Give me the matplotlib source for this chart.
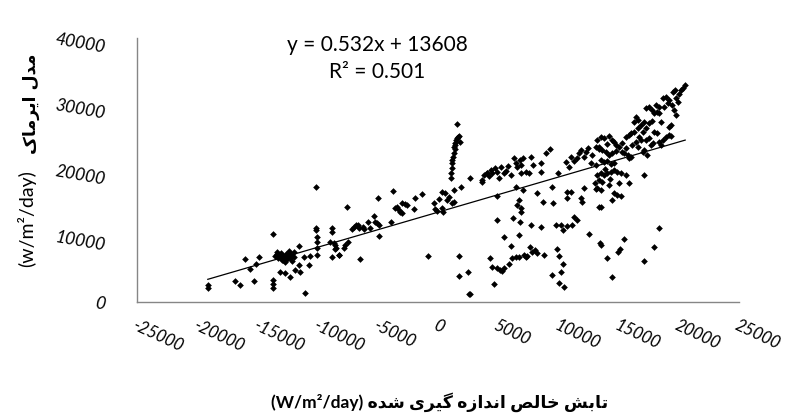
import matplotlib
matplotlib.use("Agg")
import matplotlib.pyplot as plt

# measured net radiation (x) vs. Irmak model (y), W/m2/day
x_left = [-19120, -19120, -16850, -16430, -16010, -15600, -15320, -15130, -14900,
          -13710, -13700, -13700, -13700,
          -13500, -13400, -13300, -13200, -13100, -13000, -12900, -12850, -12750,
          -12650, -12550, -12500, -12400, -12300, -12200, -12100, -12000, -11950,
          -12700, -13350, -12950, -12350,
          -13100, -12690, -12270, -11860, -11580, -11440, -11550, -11160, -11080,
          -10750, -10610, -10130, -10130, -10130, -10050, -10050, -10050, -10050,
          -8940, -8800, -8800, -8650, -8500, -8800, -8250]
y_left = [2575, 2070, 3180, 2575, 6515, 5000, 3180, 5710, 6770,
          10300, 3330, 2680, 2070,
          6900, 7300, 6600, 7100, 6800, 7500, 6300, 7000, 6700,
          7250, 6450, 6950, 7400, 6650, 7100, 6200, 6850, 7550,
          6100, 7600, 6400, 7700,
          4600, 4340, 3840, 4850, 8480, 4600, 5610, 6770, 1310,
          5610, 6970, 17370, 10910, 11160, 9900, 9140, 8130, 7120,
          9140, 11160, 10660, 8890, 8130, 6870, 7120]

x_mid = [-8530, -8530, -8190, -7830, -7700, -7470, -7560,
         -7140, -7000, -6810, -6640, -6530, -6450,
         -6250, -6170, -5810, -5620, -5340, -5250, -5060, -4920, -4980, -4920,
         -3870, -3730, -3540, -3400, -3260, -3120, -2980, -2980, -2760, -2570,
         -1960, -1870, -1370, -820,
         -350, -210, -70, 70, 350, 400, 350, 570, 760, 900,
         1040, 1100, 1150, 1180, 1320, 1180, 1320,
         1290, 1350, 1420, 1500, 1650, 1790, 1740, 1450, 1600,
         1400, 1550, 1250, 1200,
         1870, 2620, 1730, 1730, 2510, 2620, 3680, 4090]
y_mid = [8640, 7980, 7120, 8130, 8640, 9140, 14440,
         11010, 11410, 11670, 11670, 11160, 6460,
         11410, 11010, 12170, 11160, 13030, 12170, 11920, 11670, 15810, 10050,
         12170, 16870, 14190, 14440, 13940, 13690, 13430, 14950, 14850, 14700,
         14090, 15710, 16360, 6970,
         15050, 14090, 13840, 15550, 14190, 13690, 16720, 16460, 15450, 15860,
         18740, 19490, 20250, 21010, 16970, 14950, 15200,
         22530, 23530, 24040, 24540, 25050, 24290, 25150, 23130, 26970,
         23800, 24800, 22000, 21500,
         17370, 18740, 6970, 3940, 4490, 1210, 18230, 19490]

x_right = [3680, 3810, 4040, 4230, 4370, 4510, 4700, 4920, 5060, 5200,
           5480, 5620, 5810, 6030, 6310, 6450, 6590, 6810, 6920, 6860,
           7090, 7280, 7560, 7700, 7920, 8530, 8580, 8940, 9280, 9970,
           10610, 10880, 11020, 11300, 11580, 11720, 11860, 12130, 12270, 12470,
           12690, 12830, 13100, 13380,
           4920, 6450, 7090, 6720, 6590, 6860, 6860,
           8250, 8750, 9500, 9580, 10750, 10750, 11020,
           11860, 11990, 12130, 13100, 13380,
           4870, 6250, 6810, 7750, 8580, 9780, 10190, 10410, 10750, 11160,
           11300, 11580, 12550, 13460, 5480, 6720, 6030,
           4310, 4450, 4920, 5140, 5340, 5480, 4650,
           5890, 6170, 6450, 6720, 7140, 7280, 7420, 7640, 7830, 8030, 8250,
           8810, 9860, 10050, 10410, 10190, 9440, 10050, 10470, 2565]
y_right = [18480, 19240, 19590, 19090, 20000, 19490, 20250, 19750, 18740, 20500,
           19490, 19900, 20600, 19240, 21770, 21110, 20400, 21510, 20760, 19490,
           21770, 19750, 19590, 22020, 20760, 21110, 19750, 22520, 23130, 19590,
           21260, 20400, 22020, 21410, 21770, 22520, 23030, 22020, 22780, 23280,
           21010, 22270, 23540, 23130,
           16060, 17470, 16970, 15450, 14700, 14190, 13690,
           16460, 15200, 17470, 14950, 16720, 15710, 16720,
           15710, 15200, 17220, 17070, 14440,
           12420, 12680, 12170, 11670, 11410, 11670, 11670, 10910, 11510, 11670,
           12930, 12420, 10300, 8890, 9800, 10150, 8480,
           6720, 5350, 5100, 4850, 4750, 5100, 2730,
           5760, 6620, 6770, 6870, 7120, 6870, 6970, 8380, 7630, 7880, 7370,
           7120, 7980, 6970, 5760, 4600, 4090, 2930, 2320, 1160]

x_far = [13240, 13520, 13800, 14210, 14430, 13380, 13660, 13930, 14210, 14490,
         14770, 13520, 13800, 14070, 14350, 14630, 13240, 13520, 13800, 14070,
         14350, 14630, 14900, 15180, 13380, 13660, 13240, 13520, 14210, 15040,
         15880, 15600, 14630, 14900, 15180, 14490, 13520,
         14770, 15040, 15320, 15600, 15880, 16010, 15460, 15740, 15880, 16010,
         16150, 16430, 16570, 16710, 16850, 17120, 16990,
         16290, 16430, 16650, 16850, 17120, 17260, 17540,
         17260, 17540, 17680, 17820, 17400,
         17260, 17540, 17760, 17960, 18090, 18230, 18370,
         17960, 18230, 18370, 18510, 18650, 18930, 19150, 19340,
         18650, 18930, 19070, 19200, 19480, 19700, 19760, 19900, 19620, 19760,
         19200, 19340, 18370, 20170, 20370, 20530,
         14000, 14600, 15300, 15600, 16300, 16600, 17000, 17800, 18500, 18800,
         19400, 20000, 13900, 14300, 13100, 13000,
         13520, 14070, 14430, 14960, 15127, 15460, 17124, 17956, 18372, 17124]
y_far = [24540, 25050, 24800, 25200, 24540, 23530, 23030, 22780, 22270, 22520,
         22880, 21510, 21160, 21360, 20860, 21010, 19240, 19490, 19240, 19490,
         19750, 20000, 19750, 19490, 18480, 18230, 17220, 16970, 17730, 17980,
         17980, 19240, 16460, 16210, 16110, 15450, 14440,
         23790, 23530, 24040, 25050, 25300, 25550, 22520, 22270, 21770, 22020,
         23790, 24290, 23530, 25050, 24540, 23030, 22780,
         27320, 28080, 27570, 26820, 27320, 26310, 27070,
         24540, 24800, 23790, 24040, 22270,
         29340, 29590, 29090, 28580, 29850, 28840, 29590,
         25810, 25550, 24290, 23790, 24540, 25050, 25300, 25200,
         30860, 31110, 30100, 30600, 31870, 32120, 30860, 30350, 29090, 28330,
         26560, 26820, 28580, 32120, 32470, 32880,
         24000, 24300, 22800, 23300, 25800, 26300, 25800, 27500, 27200, 29500,
         29800, 31500, 20200, 18600, 20800, 18000,
         8640, 6720, 3840, 7625, 7979, 9495, 6262, 8282, 11262, 19240]

# linear trendline as printed on the chart
slope, intercept = 0.532, 13608

x_ticks = [-25000, -20000, -15000, -10000, -5000, 0, 5000, 10000, 15000, 20000, 25000]
x_ticklabels = ["-25000", "-20000", "-15000", "-10000", "-5000", "0",
                "5000", "10000", "15000", "20000", "25000"]
y_ticks = [0, 10000, 20000, 30000, 40000]

# minimal Persian shaping (presentation forms: iso, fin, ini, med)
FORMS = {
    "ا": ("\uFE8D", "\uFE8E", None, None),
    "ب": ("\uFE8F", "\uFE90", "\uFE91", "\uFE92"),
    "ت": ("\uFE95", "\uFE96", "\uFE97", "\uFE98"),
    "خ": ("\uFEA5", "\uFEA6", "\uFEA7", "\uFEA8"),
    "د": ("\uFEA9", "\uFEAA", None, None),
    "ر": ("\uFEAD", "\uFEAE", None, None),
    "ز": ("\uFEAF", "\uFEB0", None, None),
    "ش": ("\uFEB5", "\uFEB6", "\uFEB7", "\uFEB8"),
    "ص": ("\uFEB9", "\uFEBA", "\uFEBB", "\uFEBC"),
    "ل": ("\uFEDD", "\uFEDE", "\uFEDF", "\uFEE0"),
    "م": ("\uFEE1", "\uFEE2", "\uFEE3", "\uFEE4"),
    "ن": ("\uFEE5", "\uFEE6", "\uFEE7", "\uFEE8"),
    "ه": ("\uFEE9", "\uFEEA", "\uFEEB", "\uFEEC"),
    "ی": ("\uFBFC", "\uFBFD", "\uFBFE", "\uFBFF"),
    "ک": ("\uFB8E", "\uFB8F", "\uFB90", "\uFB91"),
    "گ": ("\uFB92", "\uFB93", "\uFB94", "\uFB95"),
}


def persian(text):
    out = []
    for i, ch in enumerate(text):
        if ch not in FORMS:
            out.append(ch)
            continue
        prev = text[i - 1] if i > 0 else ""
        nxt = text[i + 1] if i + 1 < len(text) else ""
        jp = prev in FORMS and FORMS[prev][2] is not None
        jn = FORMS[ch][2] is not None and nxt in FORMS
        iso, fin, ini, med = FORMS[ch]
        if jp and jn:
            out.append(med)
        elif jp:
            out.append(fin)
        elif jn:
            out.append(ini)
        else:
            out.append(iso)
    return "".join(reversed(out))


LATIN = ["Lato", "DejaVu Sans"]

fig = plt.figure(figsize=(7.88, 4.17), dpi=100)
ax = fig.add_axes([137 / 788, 1 - 302 / 417, 602 / 788, 264 / 417])

xs = x_left + x_mid + x_right + x_far
ys = y_left + y_mid + y_right + y_far
ax.plot(xs, ys, "D", ms=3.4, color="black", mew=0, zorder=3)

x0, x1 = min(xs), max(xs)
ax.plot([x0, x1], [slope * x0 + intercept, slope * x1 + intercept],
        color="black", lw=0.9, zorder=4)

ax.set_xlim(-25000, 25000)
ax.set_ylim(0, 40000)
ax.set_xticks(x_ticks)
ax.set_xticklabels(x_ticklabels, rotation=-25, rotation_mode="anchor",
                   ha="left", va="top", fontstyle="italic", fontsize=12,
                   family=LATIN)
ax.set_yticks(y_ticks)
ax.set_yticklabels([str(v) for v in y_ticks], rotation=-10, fontstyle="italic",
                   fontsize=12.5, family=LATIN)
ax.tick_params(axis="x", length=0, pad=11)
ax.tick_params(axis="y", length=0, pad=22)
for s in ("top", "right"):
    ax.spines[s].set_visible(False)
for s in ("left", "bottom"):
    ax.spines[s].set_color("#868686")
    ax.spines[s].set_linewidth(1.0)

fig.text(377 / 788, 1 - 45 / 417, "y = 0.532x + 13608", ha="center",
         va="center", fontsize=15, family=LATIN)
fig.text(377 / 788, 1 - 72 / 417, "R² = 0.501", ha="center", va="center",
         fontsize=15, family=LATIN)

fig.text(27 / 788, 1 - 219 / 417, "(w/m²/day)", rotation=90, ha="center",
         va="center", fontsize=14, family=LATIN)
fig.text(31 / 788, 1 - 104 / 417, persian("مدل ایرماک"), rotation=90,
         ha="center", va="center", fontsize=12.5, fontweight="bold",
         family=["DejaVu Sans"])

fig.text(440 / 788, 1 - 402 / 417,
         "(W/m²/day) " + persian("تابش خالص اندازه گیری شده"),
         ha="center", va="center", fontsize=12.5, fontweight="bold",
         family=LATIN)

fig.savefig("out.png", dpi=100)
